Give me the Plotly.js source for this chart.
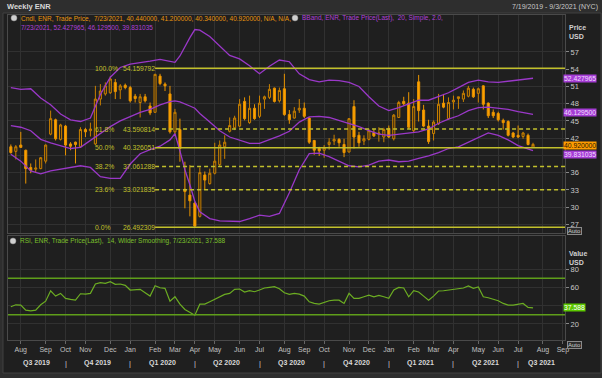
<!DOCTYPE html>
<html><head><meta charset="utf-8">
<script src="https://cdn.plot.ly/plotly-3.0.1.min.js"></script>
<style>html,body{margin:0;padding:0;background:#2e2e2e;}#chart{width:602px;height:378px;}</style>
</head><body><div id="chart"></div>
<script>
const weeks = ['2019-07-19','2019-07-26','2019-08-02','2019-08-09','2019-08-16','2019-08-23','2019-08-30','2019-09-06','2019-09-13','2019-09-20','2019-09-27','2019-10-04','2019-10-11','2019-10-18','2019-10-25','2019-11-01','2019-11-08','2019-11-15','2019-11-22','2019-11-29','2019-12-06','2019-12-13','2019-12-20','2019-12-27',
'2020-01-03','2020-01-10','2020-01-17','2020-01-24','2020-01-31','2020-02-07','2020-02-14','2020-02-21','2020-02-28','2020-03-06','2020-03-13','2020-03-20','2020-03-27','2020-04-03','2020-04-10','2020-04-17','2020-04-24','2020-05-01','2020-05-08','2020-05-15','2020-05-22','2020-05-29','2020-06-05','2020-06-12','2020-06-19','2020-06-26','2020-07-03','2020-07-10','2020-07-17','2020-07-24','2020-07-31','2020-08-07','2020-08-14','2020-08-21','2020-08-28','2020-09-04','2020-09-11','2020-09-18','2020-09-25','2020-10-02','2020-10-09','2020-10-16','2020-10-23','2020-10-30','2020-11-06','2020-11-13','2020-11-20','2020-11-27','2020-12-04','2020-12-11','2020-12-18','2020-12-25',
'2021-01-01','2021-01-08','2021-01-15','2021-01-22','2021-01-29','2021-02-05','2021-02-12','2021-02-19','2021-02-26','2021-03-05','2021-03-12','2021-03-19','2021-03-26','2021-04-02','2021-04-09','2021-04-16','2021-04-23','2021-04-30','2021-05-07','2021-05-14','2021-05-21','2021-05-28','2021-06-04','2021-06-11','2021-06-18','2021-06-25','2021-07-02','2021-07-09','2021-07-16','2021-07-23'];

const opens = [40.5,39.7,40.8,39.9,36.9,36.6,36.7,38.0,42.7,45.2,41.8,44.1,41.0,41.3,40.5,43.5,43.3,41.0,48.8,49.7,49.9,51.7,50.4,51.2,50.8,49.3,48.2,49.2,47.6,46.5,52.8,51.4,49.7,43.1,43.5,33.1,32.1,30.7,28.4,35.6,34.1,35.9,37.4,40.5,43.2,43.8,44.1,48.4,44.7,47.2,45.8,48.8,49.1,50.7,48.5,50.6,46.1,45.5,46.9,47.2,45.5,41.6,40.2,39.9,40.9,41.5,41.8,40.9,39.6,47.5,42.5,41.5,41.8,43.0,42.7,42.2,43.7,41.9,45.6,48.4,48.1,43.3,51.8,46.9,44.1,42.8,44.5,48.1,45.4,48.3,48.9,48.8,49.3,50.5,49.8,51.1,48.1,46.5,46.3,45.1,44.9,42.9,42.5,42.3,42.5,40.44];
const highs = [40.9,40.8,43.1,40.0,37.6,38.3,38.7,40.9,46.8,45.4,44.5,44.3,41.3,41.4,43.9,43.8,44.7,51.1,51.4,51.7,52.8,52.3,51.4,51.5,51.1,49.7,49.7,49.7,48.2,53.2,53.2,51.7,51.1,47.1,45.4,37.9,37.3,30.9,36.9,36.2,36.7,41.2,41.6,42.5,45.6,45.9,48.8,49.1,49.4,47.9,49.4,49.4,51.4,50.8,50.8,53.2,46.9,47.4,48.8,48.2,45.6,41.7,40.5,40.8,42.0,42.6,42.0,41.9,45.5,48.6,43.1,42.5,43.6,43.6,43.9,43.8,44.2,46.2,48.5,49.2,50.0,48.8,53.0,47.8,45.2,45.1,49.7,49.7,49.1,49.4,49.2,50.3,51.1,50.8,50.8,51.2,48.2,47.0,46.6,45.4,45.1,43.1,44.2,43.1,42.8,41.2];
const lows = [39.3,38.3,40.3,34.1,35.9,36.0,36.6,37.6,42.5,41.6,41.6,39.0,39.9,37.6,40.3,42.2,42.3,40.8,47.7,49.4,49.7,48.8,48.8,50.5,48.2,48.2,45.6,48.2,46.0,46.4,51.2,50.2,42.8,42.5,37.9,29.8,28.4,26.5,28.2,33.0,33.9,35.7,37.0,38.4,43.0,43.4,43.9,45.1,44.5,45.2,45.5,47.1,48.8,48.2,48.2,45.9,44.5,45.4,46.4,45.5,41.0,39.1,38.9,38.6,40.0,40.8,40.5,38.7,39.5,40.2,40.5,40.8,41.6,42.2,41.4,41.3,42.0,41.6,45.5,47.7,43.6,43.0,44.9,43.9,41.0,41.6,44.3,47.2,45.2,47.0,47.1,48.3,49.1,49.0,48.2,47.0,45.5,45.5,44.9,43.5,42.3,42.0,42.0,41.9,40.75,40.34];
const closes = [39.5,40.5,40.4,36.7,36.4,36.8,38.6,40.8,45.4,41.9,44.3,40.8,40.6,40.9,43.5,43.1,43.6,48.8,50.2,51.1,52.3,50.1,51.1,50.8,48.5,48.9,49.2,48.5,46.4,53.1,51.5,51.1,43.1,46.5,40.2,32.7,31.1,26.7,36.0,34.7,35.9,38.0,40.8,41.3,44.2,45.5,47.9,45.4,47.2,45.4,48.1,49.2,50.5,48.4,50.3,46.1,45.2,46.7,47.2,45.8,41.3,39.9,39.8,40.4,41.3,41.8,41.2,39.5,45.4,42.2,41.2,41.9,43.3,42.4,42.9,43.5,42.2,46.0,48.2,48.0,43.9,47.5,46.8,44.1,41.4,44.8,47.9,47.4,48.2,48.6,49.2,49.8,50.7,49.2,50.6,47.9,45.9,45.9,45.2,44.7,42.5,42.2,42.2,42.9,40.9,40.92];

const bbIdx = [0,2,4,6,8,10,12,14,16,18,20,22,24,26,28,30,32,33,34,35,36,37,38,40,42,44,46,48,50,52,54,56,58,60,62,64,66,68,70,72,74,76,78,80,82,84,86,88,90,92,94,96,98,100,102,104,105];
const bbUpper = [50.8,50.5,50.6,49.0,47.8,46.2,45.2,44.9,45.5,49.6,52.6,54.3,54.9,55.1,55.4,55.7,55.4,55.2,56.3,58.0,59.5,60.9,60.8,59.7,58.0,56.4,55.8,54.6,53.2,54.5,55.6,55.3,53.2,52.2,51.8,52.1,52.0,51.7,51.0,49.2,47.6,46.8,47.3,48.0,48.6,48.6,49.3,49.9,50.8,51.7,52.1,51.8,51.7,51.9,52.2,52.4,52.427965];
const bbMid = [44.2,43.9,43.3,41.8,41.2,40.7,40.2,40.4,41.6,42.8,44.0,45.0,45.8,46.5,47.0,47.8,48.35,48.5,48.3,48.0,47.6,47.2,46.3,44.8,43.3,42.2,41.6,41.1,41.1,41.7,42.4,43.2,44.8,45.7,45.8,45.6,45.1,44.6,44.0,43.3,42.7,42.5,42.7,42.9,43.1,43.6,44.6,45.3,45.9,46.8,47.3,47.4,47.2,47.0,46.6,46.2,46.1295];
const bbLower = [39.2,38.0,36.3,35.8,36.3,36.6,36.8,37.2,36.9,35.3,35.0,35.0,37.5,39.3,40.0,40.6,41.7,42.8,39.8,36.5,33.9,31.0,29.2,28.0,27.6,27.5,27.5,28.0,28.6,28.4,28.9,32.5,36.5,39.3,39.4,38.8,38.0,37.2,37.0,37.3,38.0,38.2,37.9,38.0,38.5,38.9,39.5,40.2,40.5,41.3,42.1,42.9,42.5,41.7,40.7,40.2,39.831035];

const rsi = [38.8,41.0,40.6,35.1,34.4,35.1,41.0,45.0,56.4,50.5,53.5,48.0,46.9,46.1,53.1,52.7,53.5,63.8,65.2,64.5,66.3,63.4,63.8,62.3,57.2,57.2,57.9,54.2,50.5,61.9,59.7,59.0,45.0,49.8,41.7,35.9,32.6,29.6,41.7,41.7,44.3,47.2,49.8,52.4,53.5,57.9,58.3,55.0,56.4,55.3,57.2,59.4,60.1,60.8,58.6,54.2,52.4,53.5,52.7,50.5,44.3,42.5,41.7,43.6,45.4,46.1,46.1,42.5,53.5,48.0,48.0,49.8,51.6,49.8,51.3,49.8,48.0,57.2,60.1,59.4,49.8,56.4,55.0,50.5,46.1,50.5,56.1,56.4,57.2,57.5,58.3,59.4,61.6,59.0,60.5,49.8,48.7,47.2,45.4,42.5,40.6,40.6,41.4,42.5,38.1,37.588];
const rsiBands = [70, 30];

const fibPct = [100, 61.8, 50, 38.2, 23.6, 0];
const fibVal = [54.159792, 43.590814, 40.326051, 37.061288, 33.021835, 26.492309];
const fibStart = '2020-02-07';

const monthTicks = ['2019-08-02','2019-09-06','2019-10-04','2019-11-01','2019-12-06','2020-01-03','2020-02-07','2020-03-06','2020-04-03','2020-05-01','2020-06-05','2020-07-03','2020-08-07','2020-09-04','2020-10-02','2020-11-06','2020-12-04','2021-01-01','2021-02-05','2021-03-05','2021-04-02','2021-05-07','2021-06-04','2021-07-02','2021-08-06','2021-09-03'];
const monthLabels = ['Aug','Sep','Oct','Nov','Dec','Jan','Feb','Mar','Apr','May','Jun','Jul','Aug','Sep','Oct','Nov','Dec','Jan','Feb','Mar','Apr','May','Jun','Jul','Aug','Sep'];
const quarterLabels = ['Q3 2019','Q4 2019','Q1 2020','Q2 2020','Q3 2020','Q4 2020','Q1 2021','Q2 2021','Q3 2021'];
const quarterBounds = ['2019-07-15','2019-10-04','2020-01-03','2020-04-03','2020-07-03','2020-10-02','2021-01-01','2021-04-02','2021-07-02','2021-09-06'];
const priceTicks = [27,30,33,36,39,42,45,48,51,54,57];
const priceTickText = ['27','30','33','36','','42','45','48','51','54','57'];
const rsiTicks = [20,40,60,80];
const rsiTickText = ['20','','60','80'];

const xRange = ['2019-07-15','2021-09-06'];
const FONT = '"Liberation Sans Narrow","Liberation Sans",Arial,sans-serif';
const W=602,H=378,ML=8,MR=37,MT=15,MB=38;
const PW=W-ML-MR, PH=H-MT-MB;
const px2x = p => (p-ML)/PW;
const px2y = p => (H-MB-p)/PH;
const lastIdx = weeks.length-1;

const bbX = bbIdx.map(i=>weeks[i]);
const traces = [
 {type:'candlestick', x:weeks, open:opens, high:highs, low:lows, close:closes, xaxis:'x', yaxis:'y',
  increasing:{line:{color:'#c98000',width:1}, fillcolor:'rgba(60,40,10,0.6)'},
  decreasing:{line:{color:'#e99400',width:1}, fillcolor:'#ffa200'},
  whiskerwidth:0, hoverinfo:'skip', showlegend:false},
 {type:'scatter', mode:'lines', x:bbX, y:bbUpper, line:{color:'#9a38c8',width:1.3}, hoverinfo:'skip', showlegend:false},
 {type:'scatter', mode:'lines', x:bbX, y:bbMid, line:{color:'#9a38c8',width:1.3}, hoverinfo:'skip', showlegend:false},
 {type:'scatter', mode:'lines', x:bbX, y:bbLower, line:{color:'#9a38c8',width:1.3}, hoverinfo:'skip', showlegend:false},
 {type:'scatter', mode:'lines', x:weeks, y:rsi, xaxis:'x2', yaxis:'y2', line:{color:'#6cad22',width:1.2}, hoverinfo:'skip', showlegend:false}
];

const shapes = [];
const annotations = [];
shapes.push({type:'rect', xref:'paper', yref:'paper', x0:px2x(3), x1:px2x(601), y0:px2y(373), y1:px2y(13), fillcolor:'#1f1f1f', line:{color:'#404040',width:1}, layer:'below'});
const FIBC = '#c2c02c';
fibVal.forEach((v,i)=>{
  const solid = (fibPct[i]===100||fibPct[i]===50||fibPct[i]===0);
  shapes.push({type:'line', xref:'x', yref:'y', x0:fibStart, x1:xRange[1], y0:v, y1:v, line:{color:FIBC, width:1.5, dash: solid?'solid':'4px,3px'}});
  annotations.push({xref:'x', yref:'y', x:fibStart, y:v, xanchor:'left', yanchor:'middle', xshift:-62, showarrow:false, text:fibPct[i].toFixed(1)+'%', font:{family:FONT,size:6.8,color:FIBC}});
  annotations.push({xref:'x', yref:'y', x:fibStart, y:v, xanchor:'left', yanchor:'middle', xshift:-34, showarrow:false, text:v.toFixed(6), font:{family:FONT,size:6.8,color:FIBC}});
});
rsiBands.forEach(v=>{
  shapes.push({type:'line', xref:'paper', yref:'y2', x0:0, x1:1, y0:v, y1:v, line:{color:'#5f9e1a', width:1.5}});
});
annotations.push({xref:'paper',yref:'paper',x:px2x(5),y:px2y(7),xanchor:'left',yanchor:'middle',showarrow:false,text:'<b>Weekly ENR</b>',font:{family:FONT,size:7.5,color:'#d8d8d8'}});
annotations.push({xref:'paper',yref:'paper',x:px2x(600),y:px2y(7),xanchor:'right',yanchor:'middle',showarrow:false,text:'7/19/2019 - 9/3/2021 (NYC)',font:{family:FONT,size:7,color:'#c8c8c8'}});
const icon = (cx,cy)=>shapes.push({type:'circle',xref:'paper',yref:'paper',x0:px2x(cx-3),x1:px2x(cx+3),y0:px2y(cy+3),y1:px2y(cy-3),fillcolor:'#cfcfcf',line:{color:'#888',width:0.5}});
icon(14,18); icon(295,18); icon(13,241);
const fmt6 = v=>v.toFixed(6);
const LF = 6.5;
annotations.push({xref:'paper',yref:'paper',x:px2x(19),y:px2y(18),xanchor:'left',yanchor:'middle',showarrow:false,
  text:'Cndl, ENR, Trade Price,  7/23/2021, '+fmt6(opens[lastIdx])+', '+fmt6(highs[lastIdx])+', '+fmt6(lows[lastIdx])+', '+fmt6(closes[lastIdx])+', N/A, N/A,',
  font:{family:FONT,size:LF,color:'#e8960e'}});
annotations.push({xref:'paper',yref:'paper',x:px2x(300),y:px2y(18),xanchor:'left',yanchor:'middle',showarrow:false,
  text:'BBand, ENR, Trade Price(Last),  20, Simple, 2.0,',font:{family:FONT,size:LF,color:'#b040d8'}});
annotations.push({xref:'paper',yref:'paper',x:px2x(19),y:px2y(27),xanchor:'left',yanchor:'middle',showarrow:false,
  text:'7/23/2021, '+fmt6(bbUpper[bbUpper.length-1])+', '+fmt6(bbMid[bbMid.length-1])+', '+fmt6(bbLower[bbLower.length-1]),font:{family:FONT,size:LF,color:'#b040d8'}});
annotations.push({xref:'paper',yref:'paper',x:px2x(18),y:px2y(241),xanchor:'left',yanchor:'middle',showarrow:false,
  text:'RSI, ENR, Trade Price(Last),  14, Wilder Smoothing, 7/23/2021, '+rsi[lastIdx].toFixed(3),font:{family:FONT,size:LF,color:'#7cc02c'}});
[['Price',27],['USD',36],['Value',253],['USD',262]].forEach(([t,y])=>{
  annotations.push({xref:'paper',yref:'paper',x:px2x(567),y:px2y(y),xanchor:'left',yanchor:'middle',showarrow:false,text:'<b>'+t+'</b>',font:{family:FONT,size:7,color:'#d0d0d0'}});
});
const tag=(v,yref,txt,bg,fc,ys)=>annotations.push({xref:'paper',yref:yref,x:1,y:v,xanchor:'left',yanchor:'middle',xshift:-2,yshift:ys||0,showarrow:false,text:txt,bgcolor:bg,borderpad:0,font:{family:FONT,size:6.8,color:fc}});
tag(bbUpper[bbUpper.length-1],'y',fmt6(bbUpper[bbUpper.length-1]),'#a43cd4','#f2dcff');
tag(bbMid[bbMid.length-1],'y',fmt6(bbMid[bbMid.length-1]),'#a43cd4','#f2dcff',2);
tag(closes[lastIdx],'y',fmt6(closes[lastIdx]),'#ff9c00','#2a1800',-0.8);
tag(bbLower[bbLower.length-1],'y',fmt6(bbLower[bbLower.length-1]),'#a43cd4','#f2dcff',-3.5);
tag(rsi[lastIdx],'y2',rsi[lastIdx].toFixed(3),'#5cc800','#ffffff');
[231,345].forEach(y=>annotations.push({xref:'paper',yref:'paper',x:px2x(567),y:px2y(y),xanchor:'left',yanchor:'middle',showarrow:false,text:'Auto',font:{family:FONT,size:6,color:'#cccccc'},bgcolor:'#2c2c2c',bordercolor:'#8a8a8a',borderwidth:1,borderpad:0}));
const toMs = d=>new Date(d+'T00:00:00Z').getTime();
quarterLabels.forEach((q,i)=>{
  const mid = new Date((toMs(quarterBounds[i])+toMs(quarterBounds[i+1]))/2).toISOString().slice(0,10);
  annotations.push({xref:'x2',yref:'paper',x:mid,y:px2y(363),xanchor:'center',yanchor:'middle',showarrow:false,text:'<b>'+q+'</b>',font:{family:FONT,size:7,color:'#d8d8d8'}});
  if(i>0) annotations.push({xref:'x2',yref:'paper',x:quarterBounds[i],y:px2y(363),xanchor:'center',yanchor:'middle',showarrow:false,text:'|',font:{family:FONT,size:7.5,color:'#cfcfcf'}});
});

const axCommon = {showgrid:true, gridcolor:'#313131', gridwidth:1, zeroline:false, showline:true, linecolor:'#4a4a4a', linewidth:1, mirror:true, fixedrange:true};
const layout = {
  width:W, height:H, margin:{l:ML,r:MR,t:MT,b:MB,pad:0},
  paper_bgcolor:'#2e2e2e', plot_bgcolor:'#1f1f1f', showlegend:false, dragmode:false,
  font:{family:FONT,size:7,color:'#c8c8c8'},
  xaxis: Object.assign({}, axCommon, {type:'date', range:xRange, domain:[0,1], anchor:'y', tickvals:monthTicks, ticktext:monthLabels, showticklabels:false, ticks:'', rangeslider:{visible:false}}),
  xaxis2: Object.assign({}, axCommon, {type:'date', matches:'x', range:xRange, domain:[0,1], anchor:'y2', tickvals:monthTicks, ticktext:monthLabels, ticks:'outside', ticklen:3, tickcolor:'#666', tickfont:{family:FONT,size:7,color:'#c0c0c0'}}),
  yaxis: Object.assign({}, axCommon, {domain:[px2y(233),1], range:[25.5,63.43], side:'right', tickvals:priceTicks, ticktext:priceTickText, ticks:'outside', ticklen:3, tickcolor:'#888', tickfont:{family:FONT,size:7.5,color:'#c8c8c8'}, anchor:'x'}),
  yaxis2: Object.assign({}, axCommon, {domain:[0,px2y(236)], range:[2.4,116.4], side:'right', tickvals:rsiTicks, ticktext:rsiTickText, ticks:'outside', ticklen:3, tickcolor:'#888', tickfont:{family:FONT,size:7.5,color:'#c8c8c8'}, anchor:'x2'}),
  boxgap:0.4,
  shapes:shapes, annotations:annotations
};
Plotly.newPlot('chart', traces, layout, {displayModeBar:false, staticPlot:true});
</script></body></html>
